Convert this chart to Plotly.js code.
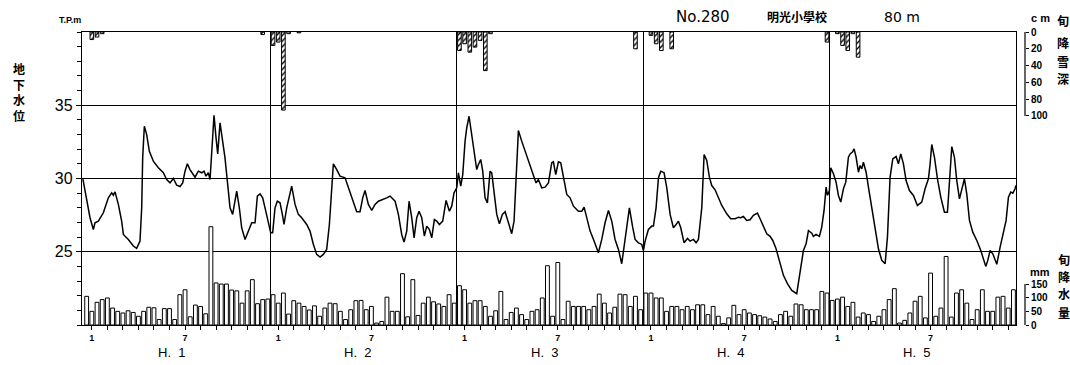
<!DOCTYPE html>
<html>
<head>
<meta charset="utf-8">
<script src="https://cdn.plot.ly/plotly-3.0.1.min.js"></script>
<style>html,body{margin:0;padding:0;background:#fff;}#chart{width:1070px;height:365px;}</style>
</head>
<body>
<div id="chart"></div>
<script>
// ---- data (x in dekads = 旬, 36 per year, H.1 .. H.5) ----
const years = ["H.\u00a0\u00a01", "H.\u00a0\u00a02", "H.\u00a0\u00a03", "H.\u00a0\u00a04", "H.\u00a0\u00a05"];
const monthLabels = ["1", "", "", "", "", "", "7", "", "", "", "", ""];

// 旬降水量 (mm), 36 dekads per year
const precipH1 = [105, 50, 83, 93, 99, 62, 50, 44, 52, 46, 32, 50, 65, 63, 20, 60, 60, 20, 111, 129, 30, 73, 68, 41, 360, 154, 150, 150, 128, 125, 80, 125, 166, 78, 93, 95];
const precipH2 = [111, 80, 117, 40, 89, 80, 68, 55, 70, 32, 62, 80, 78, 50, 20, 56, 89, 90, 56, 68, 7, 13, 102, 50, 50, 188, 30, 166, 35, 80, 102, 85, 77, 68, 111, 80];
const precipH3 = [144, 129, 80, 89, 89, 68, 32, 52, 123, 20, 46, 62, 38, 20, 50, 56, 99, 217, 32, 229, 20, 87, 68, 68, 68, 56, 68, 113, 80, 44, 65, 113, 111, 68, 105, 56];
const precipH4 = [117, 117, 99, 99, 50, 68, 68, 56, 68, 56, 74, 74, 38, 68, 32, 5, 26, 72, 38, 56, 44, 38, 34, 29, 22, 13, 38, 50, 32, 77, 74, 56, 56, 56, 123, 117];
const precipH5 = [90, 95, 102, 68, 83, 29, 44, 38, 13, 32, 56, 93, 133, 7, 17, 44, 87, 105, 26, 190, 32, 62, 251, 29, 117, 129, 80, 20, 56, 129, 50, 50, 102, 105, 62, 129];

// 旬降雪深 (cm)
const snowDekad = [1, 2, 3, 34, 36, 37, 38, 39, 41, 72, 73, 74, 75, 76, 77, 78, 106, 109, 110, 111, 113, 143, 145, 146, 147, 148, 149];
const snowDepth = [9, 6, 2, 3, 16, 12, 93, 2, 1, 22, 14, 24, 18, 10, 46, 2, 20, 4, 14, 22, 20, 12, 2, 16, 22, 2, 30];

// 地下水位 (T.P. m)
const gwDekad = [
 -0.27, 0.50, 1.15, 1.79, 2.11, 2.76, 3.72, 4.69, 5.33, 5.65, 5.98, 6.62, 7.26, 7.59, 8.55, 9.52, 10.16, 10.80, 11.13, 11.32,
 11.64, 12.09, 12.61, 13.38, 14.35, 15.31, 15.96, 16.60, 17.24, 17.89, 18.53, 19.05, 19.50, 19.95, 20.46, 21.43, 22.07, 22.72, 23.17, 23.55,
 24.00, 24.33, 24.65, 25.10, 25.49, 25.81, 26.26, 26.77, 27.22, 27.87, 28.19, 28.70, 29.03, 29.48, 29.99, 30.44, 31.09, 31.73, 32.38, 33.02,
 33.47, 33.99, 34.50, 34.95, 35.60, 36.05, 36.43, 36.88, 37.33, 37.85, 38.30, 38.62, 39.14, 39.78, 40.10, 40.75, 41.39, 42.03, 43.00, 43.64,
 44.29, 44.93, 45.58, 46.22, 46.86, 47.38, 47.83, 48.15, 48.80, 49.44, 50.41, 51.05, 51.89, 52.66, 53.30, 53.82, 54.27, 54.91, 55.56, 56.20,
 56.85, 57.81, 58.45,
 59.10, 60.07, 60.71, 61.35, 61.80, 62.32, 62.77, 63.29, 63.74, 64.25, 64.70, 65.22, 65.73, 66.18, 66.70, 67.15, 67.66, 68.11, 68.63, 69.27,
 69.92, 70.56, 71.01, 71.46, 71.98, 72.30, 72.75, 73.14, 73.59, 73.91, 74.36, 74.88, 75.33, 75.84, 76.16, 76.61, 77.00, 77.45, 77.90, 78.42,
 78.74, 79.19, 79.71, 80.22, 80.80, 81.32, 81.96, 82.60, 83.05, 83.44, 83.89, 84.53, 85.18, 86.14, 86.79, 87.30, 87.75, 88.40, 89.04, 89.69,
 90.33, 90.65, 91.10, 91.62, 92.07, 92.58, 93.23, 93.87, 94.52, 95.48, 96.13, 96.58, 97.09, 97.74, 98.51, 99.34, 99.99, 100.63, 101.28, 101.92,
 102.56, 103.21, 103.85, 104.50, 104.95, 105.33, 105.98, 106.43, 107.07, 107.72, 108.04, 108.36, 109.00, 109.65, 109.97, 110.48, 110.94, 111.39, 112.03, 112.55,
 113.19, 113.83, 114.35, 114.80, 115.25, 115.89, 116.54, 117.05, 117.70, 118.21, 118.66, 119.31, 119.76,
 120.27, 120.78, 121.23, 121.88, 122.52, 123.17, 124.13, 124.90, 125.74, 126.38, 126.84, 127.35, 127.99, 128.64, 129.28, 130.06, 130.57, 131.21, 131.86, 132.50,
 133.02, 133.66, 134.31, 135.08, 135.85, 136.69, 137.65, 138.30, 138.94, 139.46, 139.91, 140.55, 140.87, 141.39, 142.03, 142.48, 142.93, 143.32, 143.58, 143.96,
 144.22, 144.74, 145.25, 145.70, 146.15, 146.67, 147.12, 147.63, 147.96, 148.41, 148.73, 149.12, 149.57, 149.89, 150.21, 150.53, 151.05, 151.50, 152.14, 152.79,
 153.43, 154.07, 154.72, 155.17, 155.68, 156.20, 156.84, 157.29, 157.74, 158.26, 158.77, 159.42, 160.19, 160.96, 161.80, 162.44, 163.09, 163.41, 163.73, 164.25,
 164.83, 165.47, 166.18, 166.76, 167.27, 167.60, 168.11, 168.56, 169.08, 169.53, 170.04, 170.49, 171.01, 171.65, 172.43, 173.20, 174.16, 174.55, 175.00, 175.52,
 176.29, 176.93, 177.58, 178.09, 178.54, 178.99, 179.38, 179.83, 179.98
];
const gwLevel = [
 30.05, 28.45, 27.32, 26.52, 26.98, 27.09, 27.66, 28.68, 29.02, 28.86, 29.09, 28.23, 27.09, 26.18, 25.84, 25.39, 25.23, 25.73, 28.00, 31.41,
 33.57, 33.00, 31.86, 31.18, 30.73, 30.39, 29.93, 29.70, 30.00, 29.55, 29.45, 29.70, 30.50, 31.00, 30.61, 30.09, 30.50, 30.39, 30.50, 30.16,
 30.39, 29.93, 31.86, 34.32, 32.77, 31.68, 33.80, 32.55, 31.41, 29.14, 28.00, 27.55, 28.23, 29.14, 28.00, 26.64, 25.84, 26.41, 26.98, 26.98,
 28.80, 28.95, 28.68, 28.00, 27.09, 26.30, 26.30, 28.00, 28.45, 28.34, 27.55, 26.86, 28.00, 29.14, 29.48, 28.23, 27.55, 27.32, 26.86, 26.41,
 25.50, 24.82, 24.64, 24.82, 25.16, 26.86, 29.82, 31.00, 30.61, 30.16, 30.05, 29.36, 28.57, 27.73, 27.73, 28.68, 29.18, 28.23, 27.82, 28.23,
 28.45, 28.57, 28.68,
 28.80, 28.45, 27.55, 26.18, 25.66, 26.41, 28.45, 27.32, 25.95, 27.32, 27.77, 27.32, 26.07, 26.75, 26.52, 25.95, 27.20, 27.09, 26.86, 27.09,
 28.50, 27.77, 28.11, 29.02, 29.36, 30.39, 29.48, 30.27, 32.55, 33.45, 34.25, 33.00, 31.86, 30.61, 30.95, 31.30, 30.50, 28.68, 28.34, 30.50,
 30.39, 28.91, 27.55, 26.91, 27.55, 27.73, 26.98, 26.23, 27.09, 30.27, 33.27, 32.55, 31.86, 30.95, 30.27, 29.70, 29.93, 29.36, 29.41, 29.70,
 31.07, 31.14, 30.27, 31.14, 31.07, 30.16, 28.91, 28.68, 28.11, 27.77, 27.77, 28.05, 27.32, 26.41, 25.73, 24.93, 25.84, 26.98, 27.82, 27.09,
 25.84, 25.16, 24.18, 25.95, 27.32, 28.00, 26.64, 25.84, 25.61, 25.50, 25.09, 25.73, 26.52, 26.75, 26.75, 28.00, 30.05, 30.50, 30.39, 29.36,
 27.55, 26.64, 26.86, 27.09, 26.64, 25.61, 25.91, 25.73, 25.84, 25.61, 25.84, 28.00, 31.64,
 31.23, 30.09, 29.52, 29.23, 28.73, 28.16, 27.59, 27.25, 27.25, 27.36, 27.32, 27.41, 27.14, 27.18, 27.48, 27.64, 27.25, 26.68, 26.23, 26.05,
 25.77, 25.20, 24.41, 23.39, 22.82, 22.36, 22.14, 23.50, 25.09, 25.55, 26.45, 26.27, 26.05, 26.18, 26.05, 26.68, 27.82, 29.41, 28.84, 29.18,
 30.73, 30.32, 29.75, 28.84, 28.39, 29.30, 29.75, 31.45, 31.68, 31.80, 32.02, 31.45, 30.43, 30.89, 30.66, 31.11, 30.43, 29.41, 28.05, 26.45,
 25.20, 24.41, 24.18, 26.00, 30.09, 31.34, 31.50, 31.00, 31.68, 31.00, 29.86, 29.18, 28.84, 28.16, 28.39, 29.30, 29.98, 31.00, 32.32, 31.45,
 29.98, 28.73, 27.70, 27.70, 30.32, 32.18, 31.45, 29.86, 28.61, 29.18, 29.98, 28.95, 27.14, 26.34, 25.77, 25.09, 24.00, 24.41, 25.09, 24.86,
 24.14, 25.32, 26.23, 27.14, 28.73, 29.07, 29.00, 29.30, 29.52
];

// ---- build ----
const precip = [].concat(precipH1, precipH2, precipH3, precipH4, precipH5);
const precipX = precip.map((_, i) => i + 0.5);
const snowX = snowDekad.map(d => d + 0.5);

const tickVals = [], tickText = [];
years.forEach((_, y) => monthLabels.forEach((lab, m) => { tickVals.push(36 * y + 3 * m + 1.5); tickText.push(lab); }));
const yearBounds = [1, 2, 3, 4].map(k => 36 * k);

const numFont = {family: "Liberation Sans, Arial, sans-serif", color: "#000"};
const cjk = "Noto Sans CJK JP, sans-serif";

const xDomEnd = 934 / 958;
const axPos = (1025 - 82) / 958;

const traces = [
  {type: "scatter", mode: "lines", x: gwDekad, y: gwLevel, xaxis: "x", yaxis: "y",
   line: {color: "#000", width: 1.5}, hoverinfo: "skip"},
  {type: "bar", x: precipX, y: precip, xaxis: "x", yaxis: "y2", width: 0.74,
   marker: {color: "#fff", line: {color: "#000", width: 1}}, hoverinfo: "skip"},
  {type: "bar", x: snowX, y: snowDepth, base: 0, xaxis: "x", yaxis: "y3", width: 0.7,
   marker: {color: "#fff", line: {color: "#000", width: 1},
            pattern: {shape: "/", fgcolor: "#000", bgcolor: "#fff", size: 4, solidity: 0.35}}, hoverinfo: "skip"}
];

const annotations = [];
years.forEach((t, y) => annotations.push({xref: "x", yref: "paper", x: 36 * y + 18, y: -0.095, text: t,
  showarrow: false, xshift: -6, font: Object.assign({}, numFont, {size: 13}), yanchor: "middle"}));
function vtext(chars, xp, ys, size) {
  chars.split("").forEach((c, i) => annotations.push({xref: "paper", yref: "paper", x: xp, y: ys[i], text: c,
    showarrow: false, font: {family: cjk, size: size, color: "#000", weight: "bold"}, xanchor: "center", yanchor: "middle"}));
}
// left vertical label as one stacked text
annotations.push({xref: "paper", yref: "paper", x: -0.066, y: 0.795, text: "地<br>下<br>水<br>位",
  showarrow: false, align: "center", xanchor: "center", yanchor: "middle",
  font: {family: cjk, size: 12, color: "#000", weight: "bold"}});
vtext("旬降雪深", 1.024, [1.040, 0.963, 0.901, 0.840], 12);
vtext("旬降水量", 1.025, [0.225, 0.167, 0.109, 0.043], 12);
const textItems = [
  {x: -0.013, y: 1.042, text: "T.P.m", font: Object.assign({}, numFont, {size: 9, weight: "bold"})},
  {x: 0.648, y: 1.052, text: "No.280", font: {family: "DejaVu Sans, sans-serif", size: 15, color: "#000"}},
  {x: 0.746, y: 1.052, text: "明光小學校", font: {family: cjk, size: 12, color: "#000", weight: "bold"}},
  {x: 0.856, y: 1.052, text: "80\u00a0m", font: {family: "DejaVu Sans, sans-serif", size: 14, color: "#000"}},
  {x: 1.0, y: 1.048, text: "c\u00a0m", font: Object.assign({}, numFont, {size: 11, weight: "bold"})},
  {x: 1.0, y: 0.182, text: "mm", font: Object.assign({}, numFont, {size: 11, weight: "bold"})}
];
textItems.forEach(o => annotations.push(Object.assign({xref: "paper", yref: "paper", showarrow: false,
  xanchor: "center", yanchor: "middle"}, o)));

const layout = {
  width: 1070, height: 365,
  margin: {l: 82, r: 30, t: 32, b: 40},
  paper_bgcolor: "#fff", plot_bgcolor: "#fff",
  showlegend: false, bargap: 0, barmode: "overlay",
  xaxis: {domain: [0, xDomEnd], range: [-0.4, 180], showline: true, mirror: true, linecolor: "#000", linewidth: 1.2,
    tickmode: "array", tickvals: tickVals, ticktext: tickText, ticks: "outside", ticklen: 4, tickcolor: "#000",
    tickfont: Object.assign({}, numFont, {size: 9, weight: "bold"}), showgrid: false, zeroline: false,
    minor: {tickmode: "array", tickvals: yearBounds, showgrid: true, gridcolor: "#000", gridwidth: 1.3, ticks: ""}},
  yaxis: {range: [20, 40], tickmode: "array", tickvals: [25, 30, 35], ticks: "outside", ticklen: 5, tickcolor: "#000",
    showgrid: true, gridcolor: "#000", gridwidth: 1.2, showline: true, mirror: true, linecolor: "#000", linewidth: 1.2,
    zeroline: false, tickfont: Object.assign({}, numFont, {size: 16}),
    minor: {dtick: 1, tick0: 20, ticks: "outside", ticklen: 4, tickcolor: "#000", showgrid: false}},
  yaxis2: {overlaying: "y", anchor: "free", side: "right", position: axPos, range: [0, 1073],
    tickmode: "array", tickvals: [0, 50, 100, 150], ticks: "outside", ticklen: 3, tickcolor: "#000",
    showgrid: false, showline: false, zeroline: false, tickfont: Object.assign({}, numFont, {size: 10, weight: "bold"})},
  yaxis3: {overlaying: "y", anchor: "free", side: "right", position: axPos, range: [349, 0],
    tickmode: "array", tickvals: [0, 20, 40, 60, 80, 100], ticks: "outside", ticklen: 3, tickcolor: "#000",
    showgrid: false, showline: false, zeroline: false, tickfont: Object.assign({}, numFont, {size: 10, weight: "bold"})},
  shapes: [
    {type: "line", xref: "paper", yref: "y2", x0: axPos, x1: axPos, y0: 0, y1: 150, line: {color: "#000", width: 1.2}},
    {type: "line", xref: "paper", yref: "y3", x0: axPos, x1: axPos, y0: 0, y1: 100, line: {color: "#000", width: 1.2}}
  ],
  annotations: annotations
};

Plotly.newPlot("chart", traces, layout, {staticPlot: true, displayModeBar: false});
</script>
</body>
</html>
